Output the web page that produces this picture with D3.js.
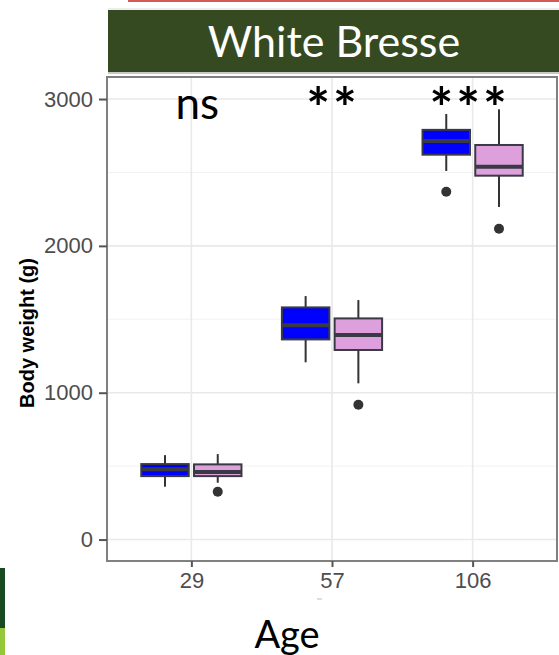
<!DOCTYPE html>
<html>
<head>
<meta charset="utf-8">
<script src="https://cdn.jsdelivr.net/npm/d3@7"></script>
<style>
  body { margin: 0; background: #fff; }
  svg { display: block; }
</style>
</head>
<body>
<div id="chart"></div>
<script>
// ages (x categories) and the two groups
var ages = ["29", "57", "106"];
var groups = ["A", "B"];
var groupFill = { A: "#0000ff", B: "#dda0dd" };

// box stats: [whiskerLow, q1, median, q3, whiskerHigh]
var statsA = [[360, 432, 478, 514, 575], [1207, 1363, 1459, 1581, 1658], [2510, 2621, 2714, 2790, 2898]];
var statsB = [[387, 432, 460, 512, 582], [1064, 1291, 1393, 1506, 1631], [2265, 2478, 2539, 2687, 2930]];
var outliersA = [[], [], [2369]];
var outliersB = [[326], [918], [2116]];

var sigLabels = ["ns", "**", "***"];
var sigY = 2865;

var yTicks = [0, 1000, 2000, 3000];
var yMinor = [500, 1500, 2500];

var W = 559, H = 655;
var svg = d3.select("#chart").append("svg")
    .attr("width", W)
    .attr("height", H);

var panel = { left: 107, right: 557, top: 77, bottom: 561 };

var x = d3.scalePoint()
    .domain(ages)
    .range([panel.left, panel.right])
    .padding(0.6);

var y = d3.scaleLinear()
    .domain([-146, 3150])
    .range([panel.bottom, panel.top]);

var step = x.step();
var boxW = step * 0.3375;
var dodge = step * 0.1875;

// red line on the very top
svg.append("rect")
    .attr("x", 128).attr("y", 0)
    .attr("width", W - 128).attr("height", 2)
    .attr("fill", "#d25a58");

// thin grey line above banner
svg.append("rect")
    .attr("x", 108).attr("y", 8.5)
    .attr("width", W - 108).attr("height", 1)
    .attr("fill", "#dcdcdc");

// title banner
svg.append("rect")
    .attr("x", 108).attr("y", 10)
    .attr("width", W - 108).attr("height", 62)
    .attr("fill", "#364a22");
svg.append("rect")
    .attr("x", 108).attr("y", 72)
    .attr("width", W - 108).attr("height", 2)
    .attr("fill", "#c9c9c9");

svg.append("text")
    .attr("x", (panel.left + panel.right) / 2 + 2)
    .attr("y", 57)
    .attr("text-anchor", "middle")
    .attr("font-family", "Lato, 'Open Sans', sans-serif")
    .attr("font-size", 43)
    .attr("fill", "#fff")
    .text("White Bresse");

// green corner image fragment
svg.append("rect").attr("x", 0).attr("y", 568).attr("width", 5).attr("height", 62).attr("fill", "#174a22");
svg.append("rect").attr("x", 0).attr("y", 628).attr("width", 5).attr("height", 27).attr("fill", "#92c83a");

var g = svg.append("g");

// grid
g.selectAll(".minor")
    .data(yMinor)
    .enter().append("line")
    .attr("x1", panel.left).attr("x2", panel.right)
    .attr("y1", function(d) { return y(d); })
    .attr("y2", function(d) { return y(d); })
    .attr("stroke", "#f2f2f2")
    .attr("stroke-width", 1);

g.selectAll(".major")
    .data(yTicks)
    .enter().append("line")
    .attr("x1", panel.left).attr("x2", panel.right)
    .attr("y1", function(d) { return y(d); })
    .attr("y2", function(d) { return y(d); })
    .attr("stroke", "#e9e9e9")
    .attr("stroke-width", 1.6);

g.selectAll(".vgrid")
    .data(ages)
    .enter().append("line")
    .attr("x1", function(d) { return x(d); })
    .attr("x2", function(d) { return x(d); })
    .attr("y1", panel.top).attr("y2", panel.bottom)
    .attr("stroke", "#e9e9e9")
    .attr("stroke-width", 1.6);

// boxes
function drawBoxes(stats, outs, grp, off) {
  var bx = g.append("g");
  ages.forEach(function(a, i) {
    var s = stats[i];
    var cx = x(a) + off;
    bx.append("line")
        .attr("x1", cx).attr("x2", cx)
        .attr("y1", y(s[0])).attr("y2", y(s[4]))
        .attr("stroke", "#333").attr("stroke-width", 2);
    bx.append("rect")
        .attr("x", cx - boxW / 2)
        .attr("y", y(s[3]))
        .attr("width", boxW)
        .attr("height", y(s[1]) - y(s[3]))
        .attr("fill", groupFill[grp])
        .attr("stroke", "#3a3a44")
        .attr("stroke-width", 2);
    bx.append("line")
        .attr("x1", cx - boxW / 2).attr("x2", cx + boxW / 2)
        .attr("y1", y(s[2])).attr("y2", y(s[2]))
        .attr("stroke", "#3a3a44").attr("stroke-width", 4);
    outs[i].forEach(function(o) {
      bx.append("circle")
          .attr("cx", cx).attr("cy", y(o))
          .attr("r", 5)
          .attr("fill", "#333");
    });
  });
}
drawBoxes(statsA, outliersA, "A", -dodge);
drawBoxes(statsB, outliersB, "B", dodge);

// significance labels (asterisks drawn bigger, like the original font)
var sigShift = [6, 1, -3];
g.selectAll(".sig")
    .data(sigLabels)
    .enter().append("text")
    .attr("x", function(d, i) { return x(ages[i]) + sigShift[i]; })
    .attr("y", function(d) { return y(sigY) + (d == "ns" ? 0 : 9); })
    .attr("text-anchor", "middle")
    .attr("font-family", "Lato, 'Open Sans', sans-serif")
    .attr("font-size", function(d) { return d == "ns" ? 44 : 56; })
    .attr("font-weight", function(d) { return d == "ns" ? 400 : 700; })
    .attr("letter-spacing", function(d) { return d == "ns" ? 0 : 3; })
    .attr("fill", "#000")
    .text(function(d) { return d; });

// panel border
svg.append("rect")
    .attr("x", panel.left).attr("y", panel.top)
    .attr("width", panel.right - panel.left)
    .attr("height", panel.bottom - panel.top)
    .attr("fill", "none")
    .attr("stroke", "#808080")
    .attr("stroke-width", 2);

// axes
var yAxis = svg.append("g")
    .attr("transform", "translate(" + panel.left + ",0)")
    .call(d3.axisLeft(y).tickValues(yTicks).tickFormat(d3.format("d")).tickSize(8).tickPadding(6));
var xAxis = svg.append("g")
    .attr("transform", "translate(0," + panel.bottom + ")")
    .call(d3.axisBottom(x).tickSize(6).tickPadding(5));

[yAxis, xAxis].forEach(function(ax) {
  ax.select(".domain").remove();
  ax.selectAll(".tick line").attr("stroke", "#555").attr("stroke-width", 2);
  ax.selectAll(".tick text")
      .attr("fill", "#4d4d4d")
      .attr("font-family", "'Liberation Sans', Arial, sans-serif")
      .attr("font-size", 22);
});

// axis titles
svg.append("text")
    .attr("transform", "translate(34,333) rotate(-90)")
    .attr("text-anchor", "middle")
    .attr("font-family", "'Liberation Sans', Arial, sans-serif")
    .attr("font-weight", "bold")
    .attr("font-size", 20)
    .attr("fill", "#000")
    .text("Body weight (g)");

svg.append("text")
    .attr("x", 287)
    .attr("y", 648)
    .attr("text-anchor", "middle")
    .attr("font-family", "Lato, 'Open Sans', sans-serif")
    .attr("font-size", 38)
    .attr("fill", "#000")
    .text("Age");

// little grey dash under the 57 label
svg.append("rect")
    .attr("x", 317).attr("y", 598.5)
    .attr("width", 5).attr("height", 1)
    .attr("fill", "#bbb");
</script>
</body>
</html>
